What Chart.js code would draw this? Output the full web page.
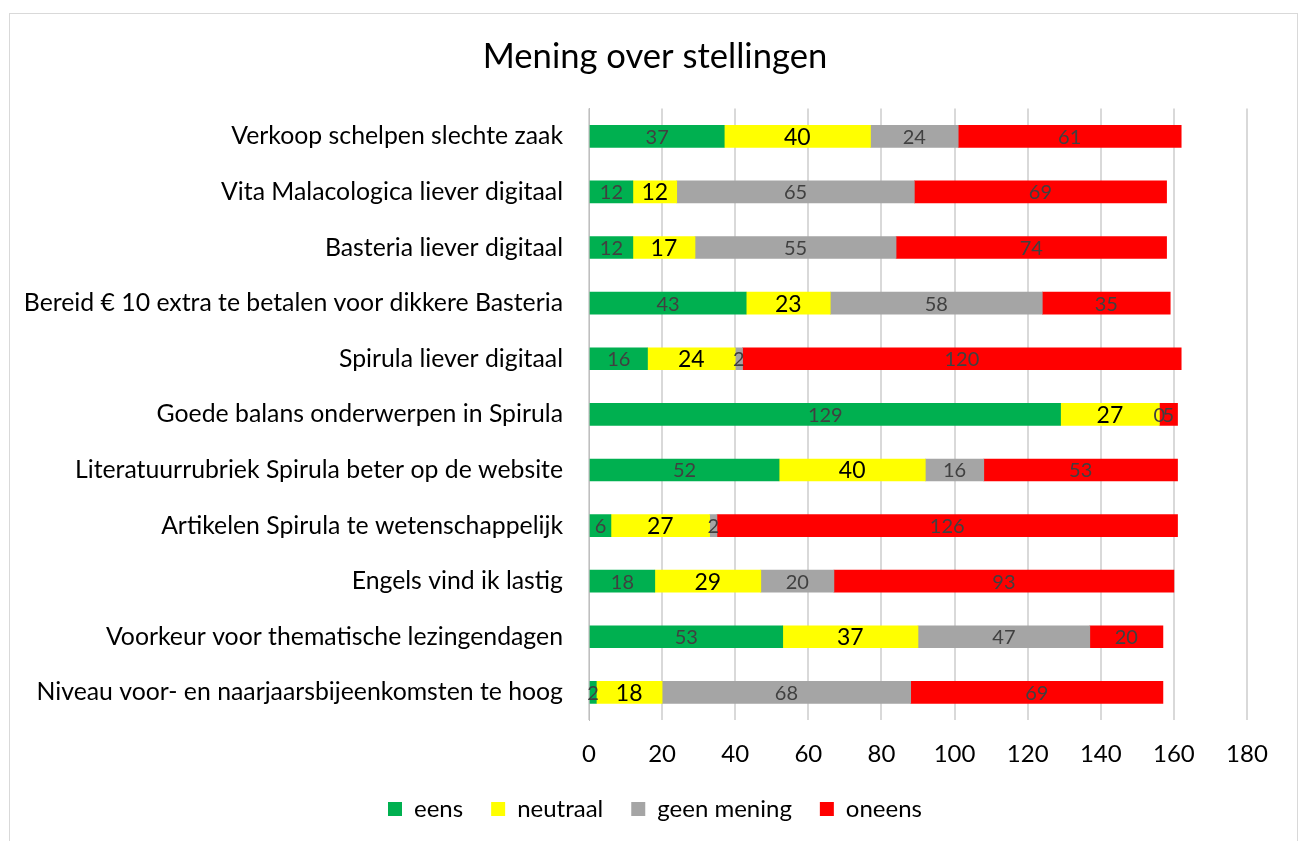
<!DOCTYPE html>
<html>
<head>
<meta charset="utf-8">
<script src="https://cdn.jsdelivr.net/npm/chart.js@4"></script>
<style>
  html, body { margin: 0; padding: 0; background: #fff; }
  #frame { position: absolute; left: 9px; top: 13px; width: 1287px; height: 840px; border: 1px solid #d9d9d9; }
  #wrap { position: absolute; left: 0; top: 0; width: 1300px; height: 841px; }
</style>
</head>
<body>
<div id="frame"></div>
<div id="wrap"><canvas id="c" width="1300" height="841"></canvas></div>
<script>
const categories = [
  "Verkoop schelpen slechte zaak",
  "Vita Malacologica liever digitaal",
  "Basteria liever digitaal",
  "Bereid € 10 extra te betalen voor dikkere Basteria",
  "Spirula liever digitaal",
  "Goede balans onderwerpen in Spirula",
  "Literatuurrubriek Spirula beter op de website",
  "Artikelen Spirula te wetenschappelijk",
  "Engels vind ik lastig",
  "Voorkeur voor thematische lezingendagen",
  "Niveau voor- en naarjaarsbijeenkomsten te hoog"
];
const eens       = [37, 12, 12, 43, 16, 129, 52, 6, 18, 53, 2];
const neutraal   = [40, 12, 17, 23, 24, 27, 40, 27, 29, 37, 18];
const geenMening = [24, 65, 55, 58, 2, 0, 16, 2, 20, 47, 68];
const oneens     = [61, 69, 74, 35, 120, 5, 53, 126, 93, 20, 69];
const seriesNames = ["eens", "neutraal", "geen mening", "oneens"];
const xTicks = [0, 20, 40, 60, 80, 100, 120, 140, 160, 180];

const FONT = "Lato, 'Open Sans', sans-serif";

const labelPlugin = {
  id: 'barLabels',
  afterDatasetsDraw(chart) {
    const ctx = chart.ctx;
    ctx.save();
    ctx.textAlign = 'center';
    ctx.textBaseline = 'middle';
    chart.data.datasets.forEach((ds, i) => {
      const meta = chart.getDatasetMeta(i);
      ctx.font = ds.labelSize + "px " + FONT;
      ctx.fillStyle = ds.labelColor;
      meta.data.forEach((el, j) => {
        const p = el.getProps(['x', 'y', 'base'], true);
        ctx.fillText(String(ds.data[j]), (p.x + p.base) / 2, p.y + 1);
      });
    });
    ctx.restore();
  }
};

new Chart(document.getElementById('c'), {
  type: 'bar',
  data: {
    labels: categories,
    datasets: [
      { label: seriesNames[0], data: eens, backgroundColor: '#00b050', labelColor: '#404040', labelSize: 20 },
      { label: seriesNames[1], data: neutraal, backgroundColor: '#ffff00', labelColor: '#000000', labelSize: 23 },
      { label: seriesNames[2], data: geenMening, backgroundColor: '#a5a5a5', labelColor: '#404040', labelSize: 20 },
      { label: seriesNames[3], data: oneens, backgroundColor: '#ff0000', labelColor: '#404040', labelSize: 20 }
    ]
  },
  options: {
    indexAxis: 'y',
    responsive: false,
    animation: false,
    datasets: { bar: { barThickness: 22, borderWidth: 0 } },
    layout: { padding: { left: 20, right: 10, top: 22, bottom: 10 } },
    scales: {
      x: {
        stacked: true,
        min: 0, max: 180,
        afterBuildTicks(axis) { axis.ticks = xTicks.map(v => ({ value: v })); },
        afterFit(axis) { axis.height -= 20; },
        grid: { color: '#d9d9d9', lineWidth: 2, drawTicks: false },
        border: { display: false },
        ticks: { color: '#000', font: { family: FONT, size: 24 }, padding: 20 }
      },
      y: {
        stacked: true,
        grid: { display: false, drawTicks: false },
        border: { display: true, color: '#bfbfbf', width: 1 },
        afterFit(axis) { axis.width = 569; },
        ticks: { color: '#000', font: { family: FONT, size: 24.8 }, padding: 26, autoSkip: false }
      },
      yPad: {
        type: 'category',
        labels: categories,
        position: 'right',
        display: true,
        grid: { display: false, drawTicks: false },
        border: { display: false },
        ticks: { display: false },
        afterFit(axis) { axis.width = 43; }
      }
    },
    plugins: {
      title: {
        display: true,
        text: 'Mening over stellingen',
        color: '#000',
        font: { family: FONT, size: 34.6, weight: 'normal' },
        padding: { top: 14, bottom: 31 }
      },
      legend: {
        position: 'bottom',
        labels: {
          color: '#000',
          font: { family: FONT, size: 24 },
          boxWidth: 14, boxHeight: 14,
          padding: 28
        }
      },
      tooltip: { enabled: false }
    }
  },
  plugins: [labelPlugin]
});
</script>
</body>
</html>
